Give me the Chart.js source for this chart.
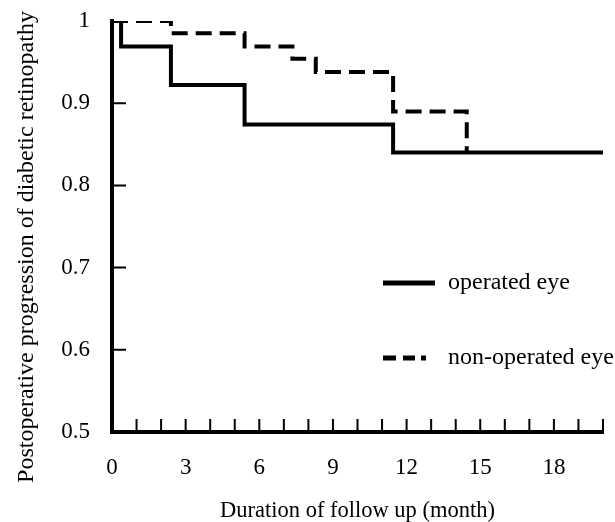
<!DOCTYPE html>
<html>
<head>
<meta charset="utf-8">
<script src="https://cdn.jsdelivr.net/npm/chart.js@4"></script>
<style>
  body { margin: 0; background: #fff; }
  canvas { display: block; }
</style>
</head>
<body>
<canvas id="km" width="615" height="522"></canvas>
<script>
// step points (month, proportion without progression)
const operatedMonths = [0, 0.37, 2.4, 5.4, 11.45, 20];
const operatedValues = [1, 0.969, 0.922, 0.874, 0.84, 0.84];
const nonOperatedMonths = [0, 2.4, 5.4, 7.35, 8.3, 11.45, 14.45];
const nonOperatedValues = [1, 0.985, 0.969, 0.954, 0.938, 0.89, 0.84];

const xLabelMonths = [0, 3, 6, 9, 12, 15, 18];
const yTickLabels = ['0.5', '0.6', '0.7', '0.8', '0.9', '1'];

const seriesNames = ['operated eye', 'non-operated eye'];
const yTitle = 'Postoperative progression of diabetic retinopathy';
const xTitle = 'Duration of follow up (month)';

const FONT = '"Liberation Serif", "Times New Roman", serif';

function toPoints(xs, ys) {
    return xs.map((x, i) => ({ x: x, y: ys[i] }));
}

// inward tick marks, like the printed figure
const innerTicks = {
    id: 'innerTicks',
    afterDraw(chart) {
        const ctx = chart.ctx;
        const xs = chart.scales.x, ys = chart.scales.y;
        const area = chart.chartArea;
        ctx.save();
        ctx.strokeStyle = '#000';
        ctx.lineWidth = 2;
        ctx.beginPath();
        xs.ticks.forEach(t => {
            if (t.value <= xs.min) return;
            const px = xs.getPixelForValue(t.value);
            ctx.moveTo(px, area.bottom);
            ctx.lineTo(px, area.bottom - 13);
        });
        ys.ticks.forEach(t => {
            if (t.value <= ys.min || t.value >= ys.max) return;
            const py = ys.getPixelForValue(t.value);
            ctx.moveTo(area.left, py);
            ctx.lineTo(area.left + 14, py);
        });
        ctx.stroke();
        ctx.restore();
    }
};

// y title and the legend inside the plot
const annotations = {
    id: 'annotations',
    afterDraw(chart) {
        const ctx = chart.ctx;
        ctx.save();
        ctx.fillStyle = '#000';
        ctx.font = '24px ' + FONT;
        ctx.textAlign = 'center';
        ctx.textBaseline = 'middle';
        ctx.translate(27, 247);
        ctx.rotate(-Math.PI / 2);
        ctx.fillText(yTitle, 0, 0);
        ctx.restore();

        ctx.save();
        ctx.strokeStyle = '#000';
        ctx.lineWidth = 5;
        ctx.beginPath();
        ctx.moveTo(383, 283);
        ctx.lineTo(435, 283);
        ctx.stroke();
        ctx.beginPath();
        ctx.moveTo(383, 358); ctx.lineTo(396, 358);
        ctx.moveTo(403, 358); ctx.lineTo(415, 358);
        ctx.moveTo(421, 358); ctx.lineTo(426, 358);
        ctx.stroke();
        ctx.fillStyle = '#000';
        ctx.font = '24px ' + FONT;
        ctx.textAlign = 'left';
        ctx.textBaseline = 'alphabetic';
        ctx.fillText(seriesNames[0], 448, 289);
        ctx.fillText(seriesNames[1], 448, 364);
        ctx.restore();
    }
};

new Chart(document.getElementById('km'), {
    type: 'line',
    data: {
        datasets: [{
            label: seriesNames[0],
            data: toPoints(operatedMonths, operatedValues),
            borderColor: '#000',
            borderWidth: 4,
            stepped: 'before',
            pointRadius: 0,
            fill: false
        }, {
            label: seriesNames[1],
            data: toPoints(nonOperatedMonths, nonOperatedValues),
            borderColor: '#000',
            borderWidth: 4,
            borderDash: [16, 8],
            stepped: 'before',
            pointRadius: 0,
            fill: false
        }]
    },
    options: {
        responsive: false,
        animation: false,
        devicePixelRatio: 1,
        layout: { padding: { left: 0, top: 21, right: 12, bottom: 0 } },
        plugins: {
            legend: { display: false },
            tooltip: { enabled: false }
        },
        scales: {
            x: {
                type: 'linear',
                min: 0,
                max: 20,
                grid: { display: false },
                border: { display: true, color: '#000', width: 4 },
                ticks: {
                    stepSize: 1,
                    autoSkip: false,
                    maxRotation: 0,
                    padding: 14,
                    color: '#000',
                    font: { family: FONT, size: 23 },
                    callback: v => xLabelMonths.includes(v) ? String(v) : ''
                },
                title: {
                    display: true,
                    text: xTitle,
                    color: '#000',
                    font: { family: FONT, size: 22.5 },
                    padding: { top: 0, bottom: -3 }
                },
                afterFit: s => {
                    s.height = 90;
                    s.paddingLeft = 0;
                    s.paddingRight = 0;
                }
            },
            y: {
                type: 'linear',
                min: 0.5,
                max: 1,
                grid: { display: false },
                border: { display: true, color: '#000', width: 4 },
                ticks: {
                    stepSize: 0.1,
                    padding: 14,
                    color: '#000',
                    font: { family: FONT, size: 23 },
                    callback: (v, i) => yTickLabels[i]
                },
                afterFit: s => {
                    s.width = 112;
                    s.paddingTop = 0;
                    s.paddingBottom = 0;
                }
            }
        }
    },
    plugins: [innerTicks, annotations]
});
</script>
</body>
</html>
